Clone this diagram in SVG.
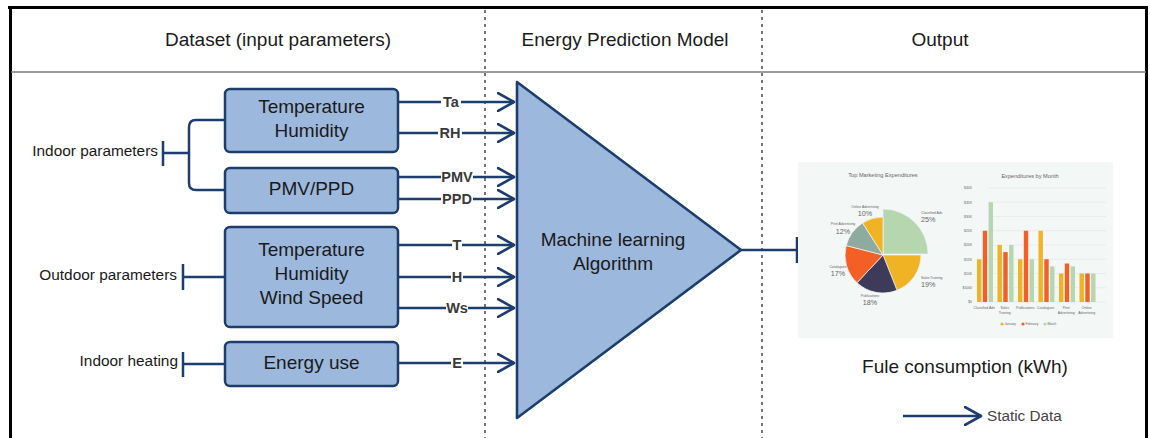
<svg xmlns="http://www.w3.org/2000/svg" width="1150" height="438" viewBox="0 0 1150 438">
  <defs>
    <marker id="open" viewBox="0 0 20 20" refX="17" refY="10" markerWidth="20" markerHeight="20" markerUnits="userSpaceOnUse" orient="auto">
      <path d="M1,1 L17,10 L1,19" fill="none" stroke="#1c3d6e" stroke-width="2.6" stroke-linejoin="round" stroke-linecap="round"/>
    </marker>
    <style>
      .hdr { font: 19px "Liberation Sans", Arial, sans-serif; fill: #1a1a1a; text-anchor: middle; }
      .box { fill: #9cb8dc; stroke: #1c3d6e; stroke-width: 2.5; }
      .btxt { font: 19px "Liberation Sans", Arial, sans-serif; fill: #1a1a1a; text-anchor: middle; }
      .side { font: 15.4px "Liberation Sans", Arial, sans-serif; fill: #1a1a1a; text-anchor: end; }
      .wire { fill: none; stroke: #1c3d6e; stroke-width: 2.5; stroke-linejoin: round; }
      .arrow { fill: none; stroke: #1c3d6e; stroke-width: 2.5; marker-end: url(#open); }
      .lbl { font: bold 14.5px "Liberation Sans", Arial, sans-serif; fill: #3a3a3a; text-anchor: middle; }
      .lblbg { fill: #ffffff; }
      .dots { stroke: #555; stroke-width: 1.6; stroke-dasharray: 3 4; }
      .ct { font-family: "Liberation Sans", Arial, sans-serif; fill: #666; }
      .grid { stroke: #e2e6e3; stroke-width: 0.6; }
      .y { fill: #f0b323; } .o { fill: #f45f25; } .g { fill: #b5d6ae; }
    </style>
  </defs>

  <!-- frame and column headers -->
  <g id="frame">
    <rect x="0" y="0" width="1150" height="438" fill="#ffffff"/>
    <line x1="8" y1="7.5" x2="1148" y2="7.5" stroke="#000" stroke-width="3"/>
    <line x1="10.5" y1="9" x2="10.5" y2="438" stroke="#000" stroke-width="3"/>
    <line x1="1146.5" y1="9" x2="1146.5" y2="438" stroke="#000" stroke-width="3"/>
    <line x1="11" y1="72" x2="1146" y2="72" stroke="#7a7a7a" stroke-width="1.5"/>
    <line class="dots" x1="485" y1="10" x2="485" y2="438"/>
    <line class="dots" x1="762" y1="10" x2="762" y2="438"/>
    <text class="hdr" x="278" y="46">Dataset (input parameters)</text>
    <text class="hdr" x="625" y="46">Energy Prediction Model</text>
    <text class="hdr" x="940" y="46">Output</text>
  </g>

  <!-- connectors -->
  <g id="connectors">
    <path class="wire" d="M225,120 H196 Q189,120 189,127 V183 Q189,190 196,190 H225"/>
    <path class="wire" d="M163,153 H189 M163,141 V166"/>
    <path class="wire" d="M183,277 H225 M183,264 V290"/>
    <path class="wire" d="M183,364 H225 M183,352 V377"/>

    <line class="arrow" x1="398" y1="102" x2="514" y2="102"/>
    <line class="arrow" x1="398" y1="133" x2="514" y2="133"/>
    <line class="arrow" x1="398" y1="177" x2="514" y2="177"/>
    <line class="arrow" x1="398" y1="199" x2="514" y2="199"/>
    <line class="arrow" x1="398" y1="245" x2="514" y2="245"/>
    <line class="arrow" x1="398" y1="277" x2="514" y2="277"/>
    <line class="arrow" x1="398" y1="308" x2="514" y2="308"/>
    <line class="arrow" x1="398" y1="363" x2="514" y2="363"/>

    <path class="wire" d="M741,250 H797 M797,237 V263"/>

    <!-- edge labels -->
    <rect class="lblbg" x="441" y="95" width="20" height="13"/>
    <text class="lbl" x="451" y="107">Ta</text>
    <rect class="lblbg" x="438" y="126" width="24" height="13"/>
    <text class="lbl" x="450" y="138">RH</text>
    <rect class="lblbg" x="441" y="170" width="32" height="13"/>
    <text class="lbl" x="457" y="182">PMV</text>
    <rect class="lblbg" x="441" y="192" width="32" height="13"/>
    <text class="lbl" x="457" y="204">PPD</text>
    <rect class="lblbg" x="452" y="238" width="10" height="13"/>
    <text class="lbl" x="457" y="250">T</text>
    <rect class="lblbg" x="451" y="270" width="12" height="13"/>
    <text class="lbl" x="457" y="282">H</text>
    <rect class="lblbg" x="446" y="301" width="22" height="13"/>
    <text class="lbl" x="457" y="313">Ws</text>
    <rect class="lblbg" x="451" y="356" width="12" height="13"/>
    <text class="lbl" x="457" y="368">E</text>
  </g>

  <!-- input side labels -->
  <g id="indoor-parameters"><text class="side" x="158" y="156">Indoor parameters</text></g>
  <g id="outdoor-parameters"><text class="side" x="177" y="280">Outdoor parameters</text></g>
  <g id="indoor-heating"><text class="side" x="178" y="366">Indoor heating</text></g>

  <!-- input boxes -->
  <g id="indoor-temp-humidity">
    <rect class="box" x="225" y="89" width="173" height="63" rx="5"/>
    <text class="btxt" x="311.5" y="113">Temperature</text>
    <text class="btxt" x="311.5" y="137">Humidity</text>
  </g>
  <g id="pmv-ppd">
    <rect class="box" x="225" y="168" width="173" height="45" rx="5"/>
    <text class="btxt" x="311.5" y="195">PMV/PPD</text>
  </g>
  <g id="outdoor-weather">
    <rect class="box" x="225" y="227" width="173" height="100" rx="5"/>
    <text class="btxt" x="311.5" y="256">Temperature</text>
    <text class="btxt" x="311.5" y="280">Humidity</text>
    <text class="btxt" x="311.5" y="304">Wind Speed</text>
  </g>
  <g id="energy-use">
    <rect class="box" x="225" y="342" width="173" height="44" rx="5"/>
    <text class="btxt" x="311.5" y="369">Energy use</text>
  </g>

  <!-- model -->
  <g id="ml-algorithm">
    <path d="M517,82 L741,250 L517,418 Z" fill="#9cb8dc" stroke="#1c3d6e" stroke-width="2.6" stroke-linejoin="round"/>
    <text class="btxt" x="613" y="246">Machine learning</text>
    <text class="btxt" x="613" y="270">Algorithm</text>
  </g>

  <!-- output dashboard -->
  <g id="output-chart">
    <rect x="798" y="162" width="315" height="176" fill="#f3f7f5"/>
    <text class="ct" x="883" y="177" font-size="5.6" text-anchor="middle" fill="#555">Top Marketing Expenditures</text>
    <g stroke="#f3f7f5" stroke-width="0.7">
      <path d="M883,254 L883,209 A45,45 0 0 1 928,254 Z" fill="#b5d6ae"/>
      <path d="M883,255 L921,255 A38,38 0 0 1 897,290.3 Z" fill="#f0b323"/>
      <path d="M883,255 L897,290.3 A38,38 0 0 1 857,282.7 Z" fill="#3d3a5a"/>
      <path d="M883,255 L857,282.7 A38,38 0 0 1 846.2,245.6 Z" fill="#f45f25"/>
      <path d="M883,255 L846.2,245.6 A38,38 0 0 1 862.6,222.9 Z" fill="#8fab9f"/>
      <path d="M883,255 L862.6,222.9 A38,38 0 0 1 883,217 Z" fill="#f0b323"/>
    </g>
    <g class="ct" font-size="3.4" fill="#888">
      <text x="921" y="214">Classified Ads</text>
      <text x="921" y="279">Sales Training</text>
      <text x="870" y="297" text-anchor="middle">Publications</text>
      <text x="838" y="268" text-anchor="middle">Catalogues</text>
      <text x="843" y="225" text-anchor="middle">Print Advertising</text>
      <text x="865" y="208" text-anchor="middle">Online Advertising</text>
    </g>
    <g class="ct" font-size="7.2" fill="#777">
      <text x="921" y="222">25%</text>
      <text x="921" y="287">19%</text>
      <text x="870" y="305" text-anchor="middle">18%</text>
      <text x="838" y="276" text-anchor="middle">17%</text>
      <text x="843" y="234" text-anchor="middle">12%</text>
      <text x="865" y="216" text-anchor="middle">10%</text>
    </g>

    <text class="ct" x="1030" y="178" font-size="5.6" text-anchor="middle" fill="#555">Expenditures by Month</text>
    <g class="grid">
      <line x1="988" y1="188" x2="1106" y2="188"/>
      <line x1="988" y1="202.25" x2="1106" y2="202.25"/>
      <line x1="988" y1="216.5" x2="1106" y2="216.5"/>
      <line x1="988" y1="230.75" x2="1106" y2="230.75"/>
      <line x1="988" y1="245" x2="1106" y2="245"/>
      <line x1="988" y1="259.25" x2="1106" y2="259.25"/>
      <line x1="988" y1="273.5" x2="1106" y2="273.5"/>
      <line x1="988" y1="287.75" x2="1106" y2="287.75"/>
      <line x1="988" y1="302" x2="1106" y2="302"/>
    </g>
    <g class="ct" font-size="3.4" fill="#888" text-anchor="end">
      <text x="972" y="189">$40K</text>
      <text x="972" y="203.5">$35K</text>
      <text x="972" y="217.5">$30K</text>
      <text x="972" y="232">$25K</text>
      <text x="972" y="246">$20K</text>
      <text x="972" y="260.5">$15K</text>
      <text x="972" y="274.5">$10K</text>
      <text x="972" y="289">$5000</text>
      <text x="972" y="303">$0</text>
    </g>
    <!-- bars: January / February / March per category -->
    <g>
      <rect class="y" x="977" y="259.25" width="4.4" height="42.75"/>
      <rect class="o" x="982.8" y="230.75" width="4.4" height="71.25"/>
      <rect class="g" x="988.6" y="202.25" width="4.4" height="99.75"/>

      <rect class="y" x="997.5" y="245" width="4.4" height="57"/>
      <rect class="o" x="1003.3" y="252.1" width="4.4" height="49.9"/>
      <rect class="g" x="1009.1" y="245" width="4.4" height="57"/>

      <rect class="y" x="1018" y="259.25" width="4.4" height="42.75"/>
      <rect class="o" x="1023.8" y="230.75" width="4.4" height="71.25"/>
      <rect class="g" x="1029.6" y="259.25" width="4.4" height="42.75"/>

      <rect class="y" x="1038.5" y="230.75" width="4.4" height="71.25"/>
      <rect class="o" x="1044.3" y="259.25" width="4.4" height="42.75"/>
      <rect class="g" x="1050.1" y="266.4" width="4.4" height="35.6"/>

      <rect class="y" x="1059" y="273.5" width="4.4" height="28.5"/>
      <rect class="o" x="1064.8" y="263.5" width="4.4" height="38.5"/>
      <rect class="g" x="1070.6" y="266.4" width="4.4" height="35.6"/>

      <rect class="y" x="1079.5" y="273.5" width="4.4" height="28.5"/>
      <rect class="o" x="1085.3" y="273.5" width="4.4" height="28.5"/>
      <rect class="g" x="1091.1" y="273.5" width="4.4" height="28.5"/>
    </g>
    <g class="ct" font-size="3.4" fill="#888" text-anchor="middle">
      <text x="984.2" y="309">Classified Ads</text>
      <text x="1004.7" y="309">Sales</text>
      <text x="1004.7" y="313.5">Training</text>
      <text x="1025.2" y="309">Publications</text>
      <text x="1045.7" y="309">Catalogues</text>
      <text x="1066.2" y="309">Print</text>
      <text x="1066.2" y="313.5">Advertising</text>
      <text x="1086.7" y="309">Online</text>
      <text x="1086.7" y="313.5">Advertising</text>
    </g>
    <g class="ct" font-size="3.2" fill="#888">
      <circle class="y" cx="1002" cy="324" r="1.6"/><text x="1004.5" y="325.2">January</text>
      <circle class="o" cx="1023" cy="324" r="1.6"/><text x="1025.5" y="325.2">February</text>
      <circle class="g" cx="1045" cy="324" r="1.6"/><text x="1047.5" y="325.2">March</text>
    </g>
  </g>

  <g id="output-label">
    <text class="btxt" x="965" y="373">Fule consumption (kWh)</text>
  </g>

  <!-- legend -->
  <g id="legend">
    <line class="arrow" x1="903" y1="416" x2="981" y2="416"/>
    <text x="987" y="421" font-family="'Liberation Sans', Arial, sans-serif" font-size="15.3" fill="#444">Static Data</text>
  </g>
</svg>
